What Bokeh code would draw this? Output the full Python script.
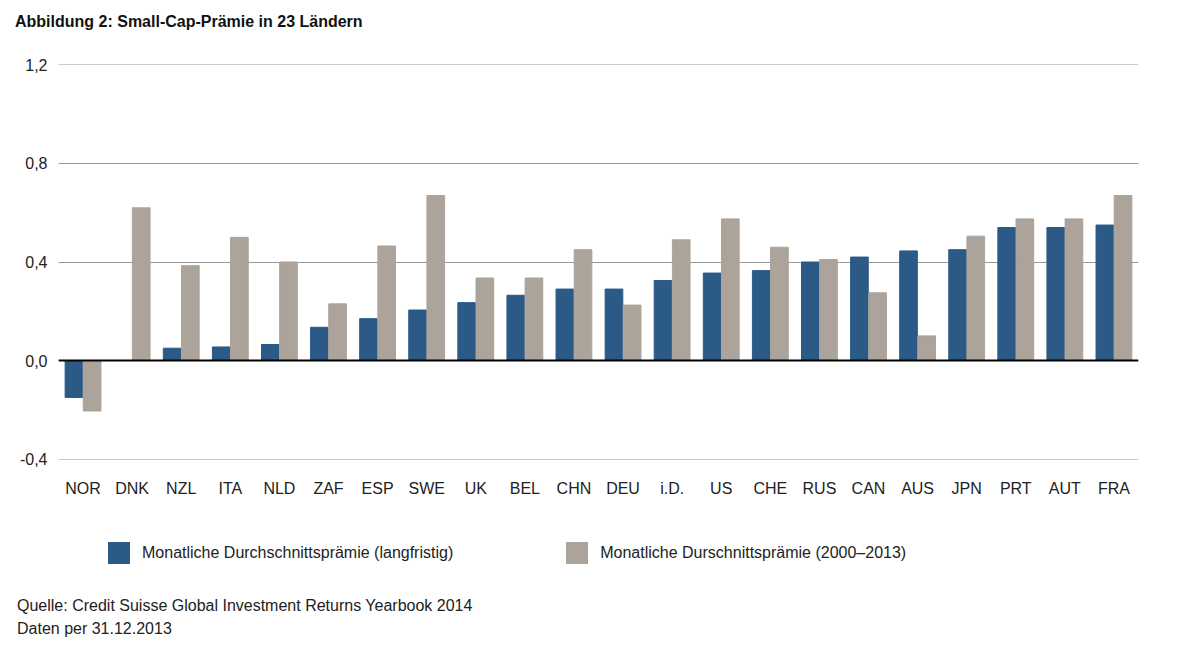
from bokeh.plotting import figure
from bokeh.models import ColumnDataSource, Span, CustomJSTickFormatter, FixedTicker, Div
from bokeh.layouts import column
from bokeh.transform import dodge
from bokeh.embed import file_html
from bokeh.resources import INLINE

countries = ["NOR","DNK","NZL","ITA","NLD","ZAF","ESP","SWE","UK","BEL","CHN","DEU","i.D.","US","CHE","RUS","CAN","AUS","JPN","PRT","AUT","FRA"]
long_term = [-0.15,0.0,0.05,0.055,0.065,0.135,0.17,0.205,0.235,0.265,0.29,0.29,0.325,0.355,0.365,0.40,0.42,0.445,0.45,0.54,0.54,0.55]
recent = [-0.205,0.62,0.385,0.50,0.40,0.23,0.465,0.67,0.335,0.335,0.45,0.225,0.49,0.575,0.46,0.41,0.275,0.10,0.505,0.575,0.575,0.67]
y_ticks = [-0.4, 0.0, 0.4, 0.8, 1.2]

BLUE = "#2b5a87"
GREY = "#aca39b"
FONT = "Liberation Sans"

title = Div(width=1150, height=40, text=f"""
<div style="font-family:'{FONT}';font-size:16px;font-weight:bold;color:#111;margin-top:6px;margin-left:10px">Abbildung 2: Small-Cap-Prämie in 23 Ländern</div>""")

src = ColumnDataSource(dict(c=countries, a=long_term, b=recent))
p = figure(x_range=countries, y_range=(-0.402, 1.202), width=1142, height=449,
           output_backend="svg", toolbar_location=None,
           min_border_left=58, min_border_right=4, min_border_top=14, min_border_bottom=40)
p.x_range.range_padding = 0
p.vbar(x=dodge("c", -0.185, range=p.x_range), top="a", width=0.36, color=BLUE, source=src)
p.vbar(x=dodge("c", 0.185, range=p.x_range), top="b", width=0.36, color=GREY, source=src)
p.add_layout(Span(location=0, dimension="width", line_color="black", line_width=2))

p.yaxis.ticker = FixedTicker(ticks=y_ticks)
p.yaxis.formatter = CustomJSTickFormatter(code="return tick.toFixed(1).replace('.', ',');")
p.ygrid.ticker = FixedTicker(ticks=y_ticks)
p.ygrid.grid_line_color = "#999999"
p.xgrid.grid_line_color = None
for ax in (p.xaxis, p.yaxis):
    ax.axis_line_color = None
    ax.major_tick_line_color = None
    ax.minor_tick_line_color = None
    ax.major_label_text_font = FONT
    ax.major_label_text_font_size = "16px"
    ax.major_label_text_color = "#222222"
p.xaxis.major_label_standoff = 14
p.outline_line_color = None

legend = Div(width=1150, height=80, text=f"""
<div style="font-family:'{FONT}';font-size:16px;color:#222;margin-top:38px;display:flex;">
<div style="margin-left:103px;display:flex;align-items:center;"><span style="display:inline-block;width:22px;height:22px;background:{BLUE};margin-right:12px"></span>Monatliche Durchschnittsprämie (langfristig)</div>
<div style="margin-left:113px;display:flex;align-items:center;"><span style="display:inline-block;width:22px;height:22px;background:{GREY};margin-right:12px"></span>Monatliche Durschnittsprämie (2000–2013)</div>
</div>""")
source = Div(width=1150, height=50, text=f"""
<div style="font-family:'{FONT}';font-size:16px;color:#222;margin-left:12px;line-height:23px">
Quelle: Credit Suisse Global Investment Returns Yearbook 2014<br>Daten per 31.12.2013</div>""")

layout = column(title, p, legend, source, spacing=0)
open("out.html", "w").write(file_html(layout, INLINE))
